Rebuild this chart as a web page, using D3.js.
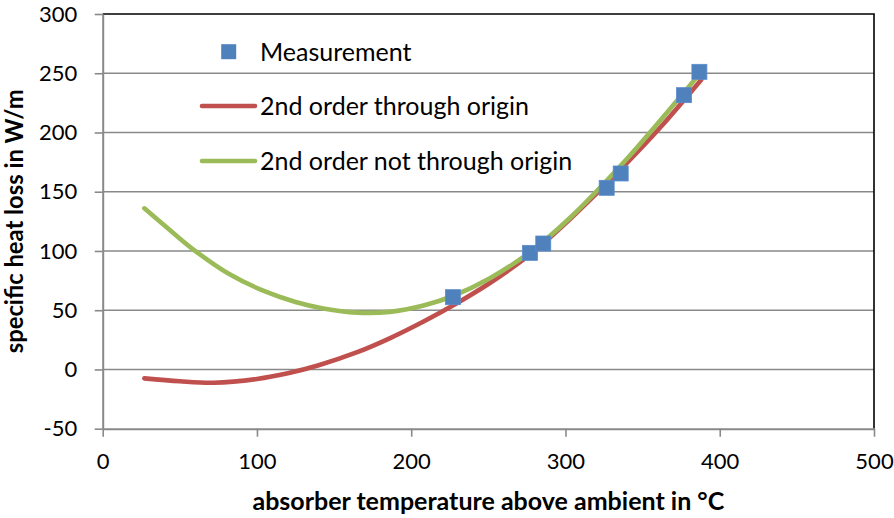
<!DOCTYPE html>
<html>
<head>
<meta charset="utf-8">
<script src="https://cdn.jsdelivr.net/npm/d3@7"></script>
<style>
  html, body { margin: 0; padding: 0; background: #ffffff; }
  svg { display: block; }
  text { font-family: Lato, "Open Sans", "Liberation Sans", sans-serif; fill: #000; }
</style>
</head>
<body>
<script>
// Heat loss of the absorber tube versus its temperature above ambient
const xTicks = [0, 100, 200, 300, 400, 500];
const yTicks = [-50, 0, 50, 100, 150, 200, 250, 300];

// Measured points: [temperature above ambient °C, heat loss W/m]
const measurement = [
  [227, 61], [277, 98.4], [285.6, 106.3], [326.7, 153.3],
  [335.8, 165.4], [376.8, 231.5], [386.8, 251.2]
];

// Fitted curve, 2nd order through origin
const fitOrigin = [
  [27, -7.5], [50, -10], [72, -11.2], [100, -8], [120, -3.2], [140, 3.6],
  [165, 14.6], [186, 26.3], [208, 40.5], [227, 54], [251, 73], [277, 97],
  [303, 127], [340, 174.5], [362, 205], [388, 244.5]
];

// Fitted curve, 2nd order not through origin
const fitFree = [
  [27, 136], [45, 116], [59, 101], [82, 80.5], [104, 66.5], [125, 57],
  [143, 51.5], [165, 48], [186, 48.6], [208, 54], [227, 62], [251, 77],
  [277, 99], [303, 128], [340, 178], [362, 211], [386, 248]
];

const seriesNames = ["Measurement", "2nd order through origin", "2nd order not through origin"];
const seriesColors = ["#4F81BD", "#C0504D", "#9BBB59"];
const xTitle = "absorber temperature above ambient in °C";
const yTitle = "specific heat loss in W/m";

const W = 894, H = 518;
const svg = d3.select("body").append("svg").attr("width", W).attr("height", H);
svg.append("rect").attr("width", W).attr("height", H).attr("fill", "#fff");

const x = d3.scaleLinear().domain([0, 500]).range([102.7, 874]);
const y = d3.scaleLinear().domain([-50, 300]).range([428.7, 14]);

const gridColor = "#898989";

// horizontal gridlines
svg.append("g").selectAll("line")
  .data(yTicks.filter(v => v !== -50 && v !== 300))
  .join("line")
  .attr("x1", x(0)).attr("x2", x(500))
  .attr("y1", d => y(d)).attr("y2", d => y(d))
  .attr("stroke", gridColor).attr("stroke-width", 1.6);

// plot area border (top and right)
svg.append("path")
  .attr("d", `M${x(0)},${y(300)}H${x(500)}V${y(-50)}`)
  .attr("fill", "none").attr("stroke", "#000").attr("stroke-width", 1.6);

// axes
const plain = d => String(d);
const yAxis = svg.append("g")
  .attr("transform", `translate(${x(0)},0)`)
  .call(d3.axisLeft(y).tickValues(yTicks).tickFormat(plain)
    .tickSize(8).tickSizeOuter(0).tickPadding(17.5));
const xAxis = svg.append("g")
  .attr("transform", `translate(0,${y(-50)})`)
  .call(d3.axisBottom(x).tickValues(xTicks).tickFormat(plain)
    .tickSize(8).tickSizeOuter(0).tickPadding(17));

[yAxis, xAxis].forEach(g => {
  g.select(".domain").attr("stroke", gridColor).attr("stroke-width", 2);
  g.selectAll(".tick line").attr("stroke", gridColor).attr("stroke-width", 1.6);
  g.selectAll(".tick text")
    .attr("font-family", "Lato, 'Open Sans', sans-serif")
    .attr("font-size", 22).attr("fill", "#000");
});

// fitted curves
const line = d3.line()
  .x(d => x(d[0])).y(d => y(d[1]))
  .curve(d3.curveCatmullRom.alpha(0.5));

svg.append("path").datum(fitOrigin)
  .attr("d", line).attr("fill", "none")
  .attr("stroke", seriesColors[1]).attr("stroke-width", 4.6)
  .attr("stroke-linecap", "round").attr("stroke-linejoin", "round");

svg.append("path").datum(fitFree)
  .attr("d", line).attr("fill", "none")
  .attr("stroke", seriesColors[2]).attr("stroke-width", 4.6)
  .attr("stroke-linecap", "round").attr("stroke-linejoin", "round");

// measurement markers
const ms = 15;
svg.append("g").selectAll("rect")
  .data(measurement)
  .join("rect")
  .attr("x", d => x(d[0]) - ms / 2).attr("y", d => y(d[1]) - ms / 2)
  .attr("width", ms).attr("height", ms)
  .attr("fill", seriesColors[0]).attr("stroke", "#5b8ccc").attr("stroke-width", 0.8);

// legend
const legend = svg.append("g");
const legY = [51.7, 106, 161];
seriesNames.forEach((name, i) => {
  if (i === 0) {
    legend.append("rect")
      .attr("x", 228.7 - ms / 2).attr("y", legY[i] - ms / 2)
      .attr("width", ms).attr("height", ms)
      .attr("fill", seriesColors[0]);
  } else {
    legend.append("line")
      .attr("x1", 202).attr("x2", 255)
      .attr("y1", legY[i]).attr("y2", legY[i])
      .attr("stroke", seriesColors[i]).attr("stroke-width", 4.6)
      .attr("stroke-linecap", "round");
  }
  legend.append("text")
    .attr("x", 260).attr("y", legY[i])
    .attr("dy", "0.36em")
    .attr("font-size", 25)
    .text(name);
});

// axis titles
svg.append("text")
  .attr("x", (x(0) + x(500)) / 2).attr("y", 510)
  .attr("text-anchor", "middle")
  .attr("font-size", 25).attr("font-weight", "bold")
  .text(xTitle);

svg.append("text")
  .attr("transform", `translate(23,${(y(-50) + y(300)) / 2}) rotate(-90)`)
  .attr("text-anchor", "middle")
  .attr("font-size", 23.8).attr("font-weight", "bold")
  .text(yTitle);
</script>
</body>
</html>
